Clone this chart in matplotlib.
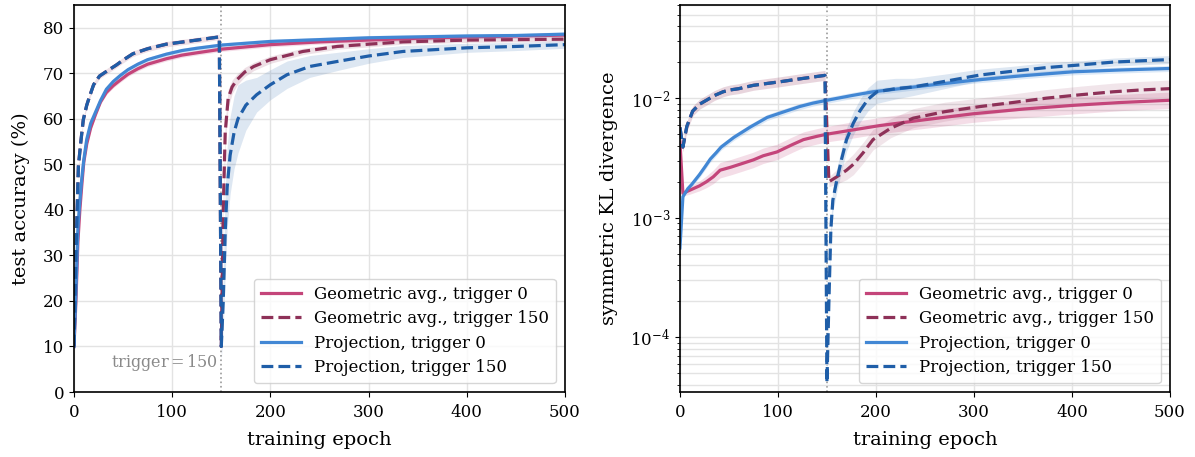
import matplotlib
matplotlib.use("Agg")
import matplotlib.pyplot as plt
import numpy as np

plt.rcParams['font.family'] = ['DejaVu Serif']
plt.rcParams['mathtext.fontset'] = 'dejavuserif'
plt.rcParams['axes.linewidth'] = 1.2

PINK = '#c4457a'
MAROON = '#8e3158'
BLUE = '#4287d4'
DBLUE = '#1f5ea8'

# ---- test accuracy (%) ----
ep_t0 = [0, 2, 4, 6, 8, 10, 13, 17, 22, 27, 33, 40, 47, 55, 65, 75, 94, 110, 125, 150,
         175, 200, 250, 300, 350, 400, 450, 500]
acc_geo_t0 = [10, 20, 33, 40, 45.5, 50.5, 54.5, 58, 61, 63.7, 65.8, 67.3, 68.5, 69.8, 71,
              72, 73.2, 74, 74.5, 75.3, 75.8, 76.3, 76.9, 77.3, 77.7, 78.0, 78.2, 78.4]
acc_proj_t0 = [10, 22, 36, 42, 47, 51, 55.5, 59, 61.5, 64, 66.5, 68.2, 69.5, 70.8, 72,
               73, 74.2, 75, 75.5, 76.2, 76.6, 77.0, 77.4, 77.8, 78.0, 78.2, 78.3, 78.6]
acc_sd_t0 = [0.5] * len(ep_t0)

# before the trigger both methods share the same run
ep_pre = [0, 2, 3, 4.5, 7, 9.5, 13, 16, 20, 26, 35, 43, 50, 60, 75, 94, 125, 148]
acc_pre = [10, 30, 38, 49.6, 55, 59.8, 63, 65, 67.5, 69.4, 70.7, 71.8, 72.9, 74.3, 75.4,
           76.4, 77.3, 78]

ep_geo_post = [150, 151, 152, 154, 157, 161, 166, 174, 183, 200, 233, 268, 300, 335, 400, 450, 500]
acc_geo_post = [10, 25, 40, 57, 64.5, 67, 68.6, 70.3, 71.5, 73, 74.8, 75.9, 76.4, 76.9,
                77.3, 77.4, 77.5]
acc_geo_post_sd = [2, 3, 3, 2.5, 2, 1.5, 1.2, 1.0, 0.9, 0.8, 0.7, 0.6, 0.6, 0.5, 0.5, 0.5, 0.5]

ep_proj_post = [150, 152, 154, 156, 159, 163, 167, 175, 186, 200, 217, 240, 268, 300, 335,
                400, 450, 500]
acc_proj_post = [10, 20, 35, 45, 52, 57, 60, 63, 65.3, 67.5, 69.7, 71.5, 72.6, 73.8, 74.8,
                 75.6, 75.9, 76.3]
acc_proj_post_sd = [3, 6, 9, 9, 8.5, 8, 7.5, 5.5, 3.8, 3.3, 3.0, 2.4, 2.0, 1.6, 1.3, 1.0, 0.9, 0.8]

# ---- symmetric KL divergence ----
ep_kgeo = [0, 3, 10, 20, 27, 34, 41, 52, 64, 75, 85, 99, 115, 126, 140, 150, 175, 204, 250,
           299, 350, 401, 450, 500]
kl_geo_t0 = [4.3e-3, 1.6e-3, 1.7e-3, 1.85e-3, 2.0e-3, 2.2e-3, 2.5e-3, 2.65e-3, 2.85e-3,
             3.05e-3, 3.3e-3, 3.55e-3, 4.1e-3, 4.5e-3, 4.8e-3, 5.0e-3, 5.4e-3, 5.9e-3,
             6.6e-3, 7.4e-3, 8.1e-3, 8.7e-3, 9.2e-3, 9.6e-3]
kl_geo_t0_f = [1.05, 1.05, 1.08, 1.1, 1.12, 1.14, 1.16, 1.16, 1.16, 1.16, 1.16, 1.16, 1.16,
               1.16, 1.16, 1.16, 1.17, 1.17, 1.18, 1.18, 1.18, 1.18, 1.17, 1.17]

ep_kproj = [0, 3, 8, 12, 20, 26, 31, 37, 42, 55, 72, 89, 100, 122, 136, 150, 175, 197,
            250, 299, 350, 401, 450, 500]
kl_proj_t0 = [5.6e-4, 1.5e-3, 1.75e-3, 1.9e-3, 2.3e-3, 2.7e-3, 3.1e-3, 3.5e-3, 3.9e-3,
              4.7e-3, 5.75e-3, 6.9e-3, 7.4e-3, 8.5e-3, 9.1e-3, 9.6e-3, 1.05e-2, 1.13e-2,
              1.27e-2, 1.41e-2, 1.54e-2, 1.66e-2, 1.72e-2, 1.77e-2]
kl_proj_t0_f = [1.04] * 4 + [1.06] * 20

ep_kpre = [0, 3, 7, 13, 20, 27, 35, 44, 51, 60, 75, 90, 102, 120, 143, 148]
kl_pre = [5.7e-3, 3.9e-3, 5.8e-3, 7.8e-3, 8.9e-3, 9.6e-3, 1.05e-2, 1.13e-2, 1.17e-2,
          1.2e-2, 1.28e-2, 1.33e-2, 1.37e-2, 1.44e-2, 1.53e-2, 1.55e-2]
kl_pre_f = [1.1] * len(ep_kpre)

ep_kgeo_post = [148, 152, 160, 170, 177, 187, 197, 215, 238, 270, 306, 340, 374, 410, 442,
                470, 500]
kl_geo_post = [1.55e-2, 2.0e-3, 2.2e-3, 2.5e-3, 2.8e-3, 3.5e-3, 4.5e-3, 5.6e-3, 6.8e-3,
               7.7e-3, 8.5e-3, 9.2e-3, 1.0e-2, 1.07e-2, 1.13e-2, 1.17e-2, 1.2e-2]
kl_geo_post_f = [1.1, 1.1, 1.15, 1.2, 1.22, 1.22, 1.22, 1.2, 1.2, 1.2, 1.18, 1.18, 1.18,
                 1.18, 1.18, 1.18, 1.18]

ep_kproj_post = [148, 150, 152, 154, 156, 160, 165, 170, 177, 184, 192, 201, 220, 238, 270,
                 306, 340, 374, 410, 442, 470, 500]
kl_proj_post = [1.55e-2, 4.2e-5, 2e-4, 8e-4, 1.4e-3, 2.05e-3, 3.1e-3, 4.5e-3, 6.2e-3,
                7.9e-3, 9.8e-3, 1.13e-2, 1.2e-2, 1.24e-2, 1.38e-2, 1.56e-2, 1.68e-2,
                1.8e-2, 1.9e-2, 2.0e-2, 2.05e-2, 2.1e-2]
kl_proj_post_f = [1.1, 1.1, 1.15, 1.2, 1.25, 1.25, 1.25, 1.25, 1.25, 1.25, 1.25, 1.25,
                  1.22, 1.18, 1.15, 1.12, 1.1, 1.1, 1.08, 1.08, 1.08, 1.08]

trigger = 150

fig = plt.figure(figsize=(11.95, 4.57), dpi=100)
ax1 = fig.add_axes([0.0619, 0.1422, 0.4109, 0.8468])
ax2 = fig.add_axes([0.569, 0.1422, 0.410, 0.8468])

lw = 2.3


def band(ax, x, y, sd, color, alpha=0.18):
    y = np.asarray(y)
    sd = np.asarray(sd)
    ax.fill_between(x, y - sd, y + sd, color=color, alpha=alpha, lw=0)


def band_log(ax, x, y, f, color, alpha=0.18):
    y = np.asarray(y)
    f = np.asarray(f)
    ax.fill_between(x, y / f, y * f, color=color, alpha=alpha, lw=0)


leg_kw = dict(loc='lower right', fontsize=12, handlelength=2.4, borderaxespad=0.55,
              labelspacing=0.45)

# left panel
band(ax1, ep_t0, acc_geo_t0, acc_sd_t0, PINK)
band(ax1, ep_t0, acc_proj_t0, acc_sd_t0, BLUE)
band(ax1, ep_pre, acc_pre, [0.6] * len(ep_pre), MAROON, 0.15)
band(ax1, ep_geo_post, acc_geo_post, acc_geo_post_sd, MAROON, 0.15)
band(ax1, ep_proj_post, acc_proj_post, acc_proj_post_sd, DBLUE, 0.15)

ax1.plot(ep_t0, acc_geo_t0, color=PINK, lw=lw, label='Geometric avg., trigger 0')
ax1.plot(ep_pre + ep_geo_post, acc_pre + acc_geo_post, color=MAROON, lw=lw, ls='--',
         label='Geometric avg., trigger 150')
ax1.plot(ep_t0, acc_proj_t0, color=BLUE, lw=lw, label='Projection, trigger 0')
ax1.plot(ep_pre + ep_proj_post, acc_pre + acc_proj_post, color=DBLUE, lw=lw, ls='--',
         label='Projection, trigger 150')

ax1.axvline(trigger, color='#999999', ls=':', lw=1.2, zorder=0)
ax1.text(trigger - 4, 6.5, r'trigger$\,$=$\,$150', ha='right', va='center',
         color='#8a8a8a', fontsize=11.5)

ax1.set_xlim(0, 500)
ax1.set_ylim(0, 85)
ax1.set_yticks(range(0, 81, 10))
ax1.set_xlabel('training epoch', fontsize=14, labelpad=7)
ax1.set_ylabel('test accuracy (%)', fontsize=14, labelpad=9)
ax1.grid(True, color='#e3e3e3', lw=1)
ax1.set_axisbelow(True)
ax1.legend(**leg_kw)

# right panel
band_log(ax2, ep_kgeo, kl_geo_t0, kl_geo_t0_f, PINK)
band_log(ax2, ep_kproj, kl_proj_t0, kl_proj_t0_f, BLUE)
band_log(ax2, ep_kpre, kl_pre, kl_pre_f, MAROON, 0.2)
band_log(ax2, ep_kgeo_post, kl_geo_post, kl_geo_post_f, MAROON, 0.12)
band_log(ax2, ep_kproj_post, kl_proj_post, kl_proj_post_f, DBLUE, 0.15)

ax2.plot(ep_kgeo, kl_geo_t0, color=PINK, lw=lw, label='Geometric avg., trigger 0')
ax2.plot(ep_kpre + ep_kgeo_post, kl_pre + kl_geo_post, color=MAROON, lw=lw, ls='--',
         label='Geometric avg., trigger 150')
ax2.plot(ep_kproj, kl_proj_t0, color=BLUE, lw=lw, label='Projection, trigger 0')
ax2.plot(ep_kpre + ep_kproj_post, kl_pre + kl_proj_post, color=DBLUE, lw=lw, ls='--',
         label='Projection, trigger 150')

ax2.axvline(trigger, color='#999999', ls=':', lw=1.2, zorder=0)
ax2.set_yscale('log')
ax2.set_xlim(0, 500)
ax2.set_ylim(3.5e-5, 0.06)
ax2.set_xlabel('training epoch', fontsize=14, labelpad=7)
ax2.set_ylabel('symmetric KL divergence', fontsize=14, labelpad=9)
ax2.grid(True, which='both', color='#e3e3e3', lw=1)
ax2.set_axisbelow(True)
ax2.legend(**leg_kw)

for ax in (ax1, ax2):
    ax.tick_params(labelsize=12)
    ax.tick_params(axis='x', pad=5)

fig.savefig('out.png', dpi=100)
